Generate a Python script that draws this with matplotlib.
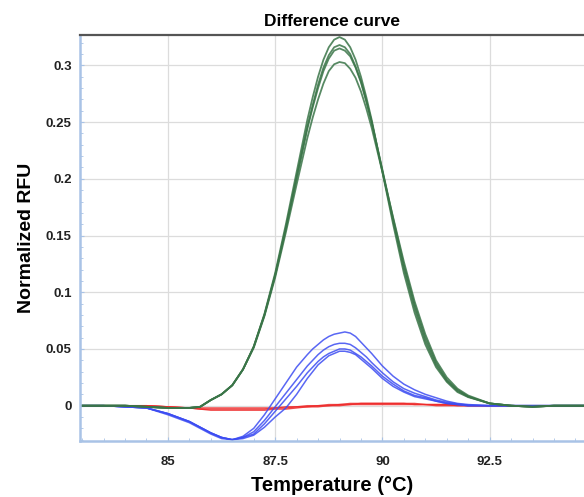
import matplotlib
matplotlib.use("Agg")
import matplotlib.pyplot as plt
from matplotlib.ticker import MultipleLocator

plt.rcParams["font.family"] = ["Liberation Sans", "DejaVu Sans"]

# temperature grid (deg C) shared by all curves
temp = [83.0, 83.5, 84.0, 84.5, 85.0, 85.5, 85.75, 86.0, 86.25, 86.5, 86.75,
        87.0, 87.25, 87.5, 87.75, 88.0, 88.25, 88.375, 88.5, 88.625, 88.75,
        88.875, 89.0, 89.125, 89.25, 89.375, 89.5, 89.625, 89.75, 90.0, 90.25,
        90.5, 90.75, 91.0, 91.25, 91.5, 91.75, 92.0, 92.5, 93.0, 93.5, 94.0, 94.7]

# green replicates
green_1 = [0.0, 0.0, 0.0, -0.001, -0.002, -0.002, -0.001, 0.005, 0.010, 0.018, 0.032,
           0.052, 0.081, 0.117, 0.160, 0.206, 0.252, 0.272, 0.290, 0.305, 0.316,
           0.3227, 0.325, 0.3227, 0.316, 0.305, 0.290, 0.272, 0.252, 0.206, 0.160,
           0.117, 0.082, 0.054, 0.034, 0.021, 0.012, 0.0075, 0.002, 0.0, -0.001, 0.0, 0.0]
green_2 = [0.0, 0.0, 0.0, -0.001, -0.002, -0.002, -0.001, 0.005, 0.010, 0.018, 0.032,
           0.052, 0.080, 0.115, 0.157, 0.202, 0.246, 0.265, 0.283, 0.298, 0.309,
           0.316, 0.318, 0.316, 0.310, 0.299, 0.286, 0.269, 0.250, 0.207, 0.163,
           0.121, 0.086, 0.057, 0.036, 0.022, 0.013, 0.008, 0.002, 0.0, -0.001, 0.0, 0.0]
green_3 = [0.0, 0.0, 0.0, -0.001, -0.002, -0.002, -0.001, 0.005, 0.010, 0.018, 0.032,
           0.052, 0.080, 0.115, 0.156, 0.200, 0.244, 0.263, 0.280, 0.295, 0.306,
           0.313, 0.315, 0.313, 0.308, 0.298, 0.285, 0.268, 0.250, 0.208, 0.165,
           0.124, 0.089, 0.060, 0.038, 0.023, 0.014, 0.008, 0.002, 0.0, -0.001, 0.0, 0.0]
green_4 = [0.0, 0.0, 0.0, -0.001, -0.002, -0.002, -0.001, 0.005, 0.010, 0.018, 0.032,
           0.051, 0.079, 0.113, 0.153, 0.195, 0.236, 0.254, 0.270, 0.284, 0.295,
           0.301, 0.303, 0.302, 0.297, 0.289, 0.277, 0.262, 0.245, 0.206, 0.166,
           0.127, 0.092, 0.063, 0.040, 0.025, 0.015, 0.009, 0.002, 0.0, -0.001, 0.0, 0.0]

# blue replicates
blue_1 = [0.0, 0.0, -0.001, -0.002, -0.007, -0.014, -0.019, -0.024, -0.028, -0.030, -0.027,
          -0.020, -0.008, 0.006, 0.020, 0.034, 0.045, 0.050, 0.054, 0.058, 0.061,
          0.063, 0.064, 0.065, 0.064, 0.061, 0.056, 0.051, 0.046, 0.035, 0.026,
          0.019, 0.014, 0.010, 0.007, 0.004, 0.002, 0.001, 0.0, 0.0, 0.0, 0.0, 0.0]
blue_2 = [0.0, 0.0, -0.001, -0.002, -0.007, -0.014, -0.019, -0.024, -0.028, -0.030, -0.028,
          -0.023, -0.013, -0.001, 0.011, 0.023, 0.035, 0.040, 0.045, 0.049, 0.052,
          0.054, 0.055, 0.055, 0.054, 0.051, 0.047, 0.043, 0.038, 0.029, 0.021,
          0.015, 0.011, 0.008, 0.005, 0.003, 0.0015, 0.0005, 0.0, 0.0, 0.0, 0.0, 0.0]
blue_3 = [0.0, 0.0, -0.001, -0.002, -0.007, -0.014, -0.019, -0.024, -0.028, -0.030, -0.028,
          -0.025, -0.016, -0.005, 0.006, 0.017, 0.029, 0.034, 0.039, 0.043, 0.046,
          0.048, 0.050, 0.050, 0.049, 0.046, 0.043, 0.039, 0.035, 0.026, 0.019,
          0.013, 0.009, 0.007, 0.004, 0.002, 0.001, 0.0, 0.0, 0.0, 0.0, 0.0, 0.0]
blue_4 = [0.0, 0.0, -0.001, -0.002, -0.008, -0.015, -0.020, -0.025, -0.029, -0.030, -0.029,
          -0.026, -0.019, -0.010, -0.002, 0.010, 0.024, 0.030, 0.036, 0.040, 0.044,
          0.046, 0.048, 0.048, 0.047, 0.045, 0.041, 0.037, 0.033, 0.024, 0.017,
          0.012, 0.008, 0.006, 0.004, 0.002, 0.001, 0.0, 0.0, 0.0, 0.0, 0.0, 0.0]

# red replicates (near baseline)
red_1 = [0.0, 0.0, 0.0, 0.0, -0.001, -0.002, -0.002, -0.002, -0.002, -0.002, -0.002,
         -0.002, -0.002, -0.002, -0.001, -0.001, 0.0, 0.0, 0.0, 0.0005, 0.001,
         0.001, 0.001, 0.0015, 0.002, 0.002, 0.002, 0.002, 0.002, 0.002, 0.002,
         0.002, 0.002, 0.001, 0.001, 0.001, 0.001, 0.0, 0.0, 0.0, 0.0, 0.0, 0.0]
red_2 = [0.0, 0.0, 0.0, 0.0, -0.001, -0.002, -0.003, -0.003, -0.003, -0.003, -0.003,
         -0.003, -0.003, -0.002, -0.002, -0.001, -0.001, -0.0005, 0.0, 0.0, 0.0,
         0.0005, 0.001, 0.001, 0.001, 0.0015, 0.002, 0.002, 0.002, 0.002, 0.002,
         0.002, 0.001, 0.001, 0.001, 0.001, 0.0, 0.0, 0.0, 0.0, 0.0, 0.0, 0.0]
red_3 = [0.0, 0.0, 0.0, 0.0, -0.001, -0.002, -0.003, -0.004, -0.004, -0.004, -0.004,
         -0.004, -0.004, -0.003, -0.003, -0.002, -0.001, -0.001, -0.001, -0.0005, 0.0,
         0.0, 0.0, 0.0005, 0.001, 0.001, 0.001, 0.001, 0.001, 0.001, 0.001,
         0.001, 0.001, 0.001, 0.0, 0.0, 0.0, 0.0, 0.0, 0.0, 0.0, 0.0, 0.0]

fig = plt.figure(figsize=(5.84, 4.97), dpi=100)
ax = fig.add_axes([0.137, 0.113, 0.863, 0.817])

for y in [red_1, red_2, red_3]:
    ax.plot(temp, y, color="#ee2a2a", lw=1.0, alpha=0.85)
for y in [blue_1, blue_2, blue_3, blue_4]:
    ax.plot(temp, y, color="#3c4cf2", lw=1.1, alpha=0.85)
for y in [green_1, green_2, green_3, green_4]:
    ax.plot(temp, y, color="#3a7548", lw=1.3, alpha=0.85)

ax.set_xlim(82.95, 94.7)
ax.set_ylim(-0.031, 0.327)
ax.xaxis.set_minor_locator(MultipleLocator(0.5))
ax.yaxis.set_minor_locator(MultipleLocator(0.01))
ax.set_xticks([85, 87.5, 90, 92.5])
ax.set_xticklabels(["85", "87.5", "90", "92.5"])
ax.set_yticks([0, 0.05, 0.1, 0.15, 0.2, 0.25, 0.3])
ax.set_yticklabels(["0", "0.05", "0.1", "0.15", "0.2", "0.25", "0.3"])

ax.grid(True, which="major", color="#dcdcdc", lw=0.9)
ax.set_axisbelow(True)

ax.tick_params(which="both", direction="in", colors="#a9c3e6",
               labelcolor="#222222", labelsize=9.5)
ax.tick_params(which="major", length=3)
ax.tick_params(which="minor", length=2.5)
ax.tick_params(axis="x", pad=11)
ax.tick_params(axis="y", pad=6)
for lab in ax.get_xticklabels() + ax.get_yticklabels():
    lab.set_fontweight("bold")

for s in ["left", "bottom"]:
    ax.spines[s].set_color("#a9c3e6")
    ax.spines[s].set_linewidth(1.8)
ax.spines["top"].set_color("#555555")
ax.spines["top"].set_linewidth(1.6)
ax.spines["right"].set_visible(False)

ax.set_title("Difference curve", fontsize=12.5, fontweight="bold", pad=6)
ax.set_xlabel("Temperature (°C)", fontsize=14.5, fontweight="bold", labelpad=6)
ax.set_ylabel("Normalized RFU", fontsize=14, fontweight="bold", labelpad=8)

fig.savefig("out.png", dpi=100)
